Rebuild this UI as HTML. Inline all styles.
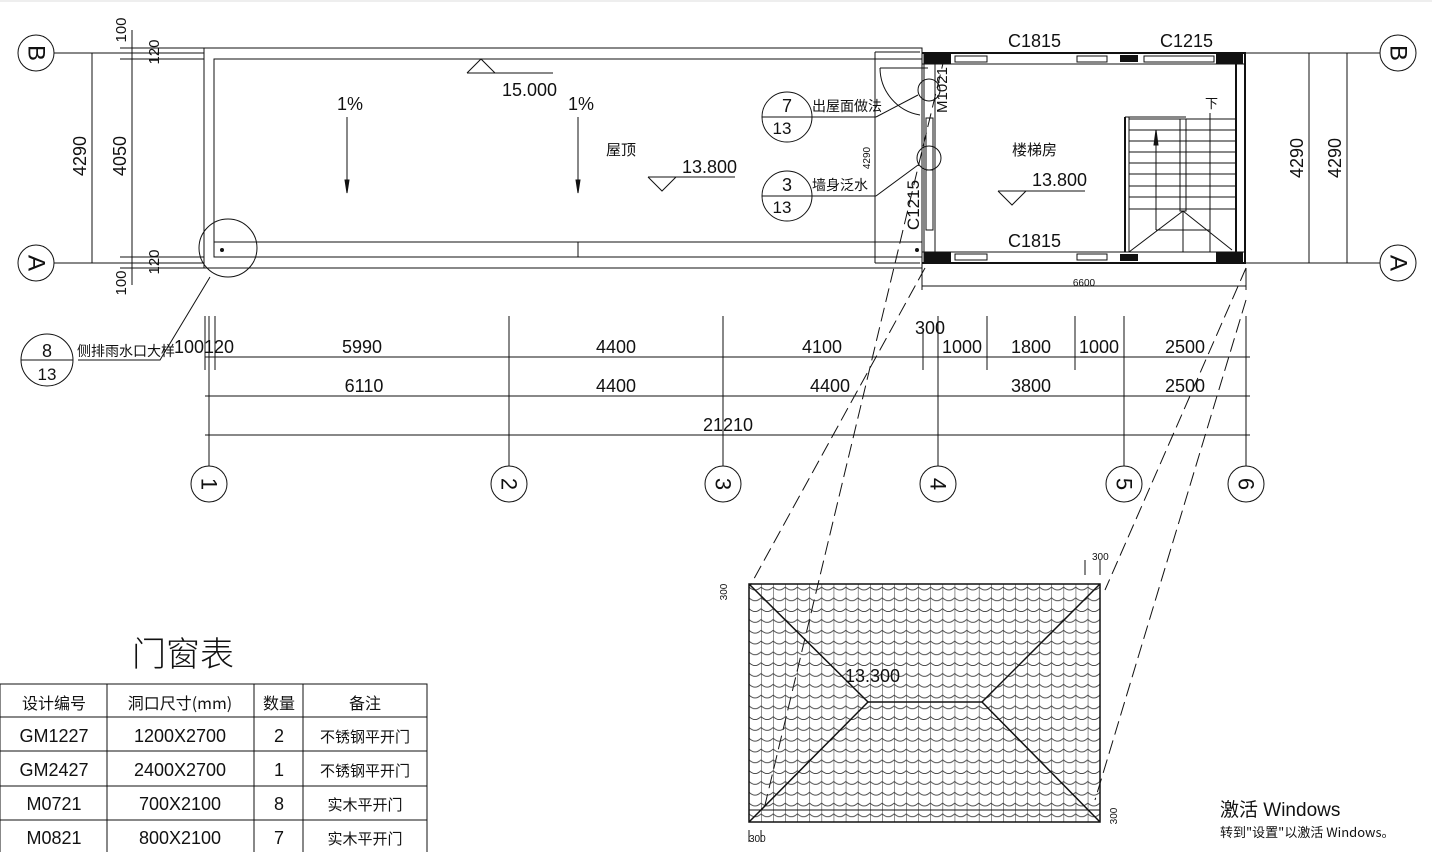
<!DOCTYPE html>
<html><head><meta charset="utf-8"><style>
html,body{margin:0;padding:0;background:#fff;}
svg{display:block;}
text{font-family:"Liberation Sans","Noto Sans CJK SC",sans-serif;fill:#111;}
.cjk{font-family:"Noto Sans CJK SC","WenQuanYi Zen Hei",sans-serif;}
</style></head><body>
<svg width="1432" height="852" viewBox="0 0 1432 852" xmlns="http://www.w3.org/2000/svg">
<defs>
<pattern id="tile" x="749" y="584" width="12.1" height="10.8" patternUnits="userSpaceOnUse">
<line x1="0" y1="0" x2="0" y2="10.8" stroke="#222" stroke-width="1"/>
<path d="M0,3 Q6,9 12.1,3" fill="none" stroke="#333" stroke-width="0.8"/>
</pattern>
</defs>
<rect x="0" y="0" width="1432" height="852" fill="#fff"/>
<line x1="0" y1="1" x2="1432" y2="1" stroke="#ddd"/>
<g stroke="#111" stroke-width="1" fill="none">
<circle cx="36" cy="53" r="18"/><circle cx="36" cy="263" r="18"/>
<line x1="54" y1="53" x2="204" y2="53"/><line x1="54" y1="263" x2="204" y2="263"/>
<line x1="120" y1="48" x2="204" y2="48"/><line x1="120" y1="59" x2="204" y2="59"/>
<line x1="120" y1="257" x2="204" y2="257"/><line x1="120" y1="268" x2="204" y2="268"/>
<line x1="92" y1="53" x2="92" y2="263"/><line x1="132" y1="30" x2="132" y2="285"/>
<circle cx="1398" cy="53" r="18"/><circle cx="1398" cy="263" r="18"/>
<line x1="1246" y1="53" x2="1380" y2="53"/><line x1="1246" y1="263" x2="1380" y2="263"/>
<line x1="1309" y1="53" x2="1309" y2="263"/><line x1="1347" y1="53" x2="1347" y2="263"/>
<rect x="204" y="48" width="718" height="220"/>
<rect x="214" y="59" width="708" height="198"/>
<line x1="214" y1="242" x2="922" y2="242"/>
<line x1="578" y1="242" x2="578" y2="257"/>
<circle cx="228" cy="248" r="29"/>
<polyline points="210,277 160,360 78,360"/>
<circle cx="47" cy="360" r="26"/><line x1="21" y1="360" x2="73" y2="360"/>
<polyline points="467,73 481,59 495,73"/><line x1="467" y1="73" x2="553" y2="73"/>
<line x1="347" y1="117" x2="347" y2="193"/><polygon points="345,180 349,180 347,193" fill="#111"/>
<line x1="578" y1="117" x2="578" y2="193"/><polygon points="576,180 580,180 578,193" fill="#111"/>
<polyline points="648,177 662,191 676,177"/><line x1="648" y1="177" x2="735" y2="177"/>
<polyline points="998,191 1012,205 1026,191"/><line x1="998" y1="191" x2="1085" y2="191"/>
<circle cx="787" cy="117" r="25"/><line x1="762" y1="117" x2="876" y2="117"/>
<line x1="876" y1="117" x2="918" y2="95"/>
<circle cx="787" cy="196" r="25"/><line x1="762" y1="196" x2="876" y2="196"/>
<line x1="876" y1="196" x2="918" y2="165"/>
<line x1="875" y1="52" x2="875" y2="263"/>
<line x1="875" y1="52" x2="920" y2="52"/><line x1="875" y1="263" x2="920" y2="263"/>
<line x1="880" y1="68" x2="928" y2="68"/>
<path d="M880,68 A48,48 0 0 0 920,115"/>
<circle cx="929" cy="90" r="11"/><circle cx="929" cy="158" r="12"/>
<line x1="922" y1="53" x2="1246" y2="53" stroke-width="2"/>
<line x1="922" y1="64" x2="1246" y2="64"/>
<line x1="922" y1="252" x2="1246" y2="252"/>
<line x1="922" y1="263" x2="1246" y2="263" stroke-width="2"/>
<line x1="924" y1="53" x2="924" y2="263"/><line x1="935" y1="53" x2="935" y2="263"/>
<line x1="1236" y1="53" x2="1236" y2="263" stroke-width="2"/><line x1="1245" y1="53" x2="1245" y2="263" stroke-width="2"/>
<rect x="955" y="56" width="32" height="6"/><rect x="1077" y="56" width="30" height="6"/>
<rect x="1144" y="56" width="70" height="6"/>
<rect x="955" y="254" width="32" height="6"/><rect x="1077" y="254" width="30" height="6"/>
<rect x="926" y="118" width="7" height="52"/><rect x="926" y="170" width="7" height="60"/>
<line x1="1125" y1="117" x2="1125" y2="252" stroke-width="2"/><line x1="1129" y1="117" x2="1129" y2="252"/>
<line x1="1125" y1="117" x2="1186" y2="117"/>
<rect x="1180" y="119" width="6" height="92"/>
<g stroke-width="0.9">
<line x1="1129" y1="119" x2="1236" y2="119"/><line x1="1129" y1="130" x2="1236" y2="130"/>
<line x1="1129" y1="141" x2="1236" y2="141"/><line x1="1129" y1="152" x2="1236" y2="152"/>
<line x1="1129" y1="163" x2="1236" y2="163"/><line x1="1129" y1="174" x2="1236" y2="174"/>
<line x1="1129" y1="186" x2="1236" y2="186"/><line x1="1129" y1="197" x2="1236" y2="197"/>
<line x1="1129" y1="209" x2="1236" y2="209"/>
</g>
<line x1="1156" y1="135" x2="1156" y2="230"/><polygon points="1154,145 1158,145 1156,130" fill="#111"/>
<line x1="1210" y1="113" x2="1210" y2="252"/>
<line x1="1156" y1="230" x2="1210" y2="230"/><line x1="1183" y1="211" x2="1183" y2="252"/>
<line x1="1183" y1="211" x2="1129" y2="252"/><line x1="1183" y1="211" x2="1232" y2="250"/>
<line x1="922" y1="268" x2="922" y2="290"/><line x1="1246" y1="268" x2="1246" y2="290"/>
<line x1="922" y1="286" x2="1246" y2="286"/>
<line x1="205" y1="357" x2="1250" y2="357"/>
<line x1="205" y1="396" x2="1250" y2="396"/>
<line x1="205" y1="435" x2="1250" y2="435"/>
<line x1="205" y1="316" x2="205" y2="370"/><line x1="215" y1="316" x2="215" y2="370"/>
<line x1="209" y1="316" x2="209" y2="466"/>
<line x1="509" y1="316" x2="509" y2="466"/><line x1="723" y1="316" x2="723" y2="466"/>
<line x1="938" y1="316" x2="938" y2="466"/><line x1="1124" y1="316" x2="1124" y2="466"/>
<line x1="1246" y1="316" x2="1246" y2="466"/>
<line x1="923" y1="330" x2="923" y2="370"/><line x1="987" y1="316" x2="987" y2="370"/>
<line x1="1075" y1="316" x2="1075" y2="370"/>
<circle cx="209" cy="484" r="18"/><circle cx="509" cy="484" r="18"/><circle cx="723" cy="484" r="18"/>
<circle cx="938" cy="484" r="18"/><circle cx="1124" cy="484" r="18"/><circle cx="1246" cy="484" r="18"/>
<g stroke-dasharray="14,6">
<line x1="925" y1="268" x2="750" y2="586"/>
<line x1="945" y1="55" x2="765" y2="805"/>
<line x1="1246" y1="268" x2="1105" y2="590"/>
<line x1="1246" y1="300" x2="1095" y2="800"/>
</g>
<rect x="749" y="584" width="351" height="238" fill="url(#tile)" stroke-width="1.5"/>
<line x1="749" y1="584" x2="868" y2="702" stroke-width="1.5"/>
<line x1="1100" y1="584" x2="982" y2="702" stroke-width="1.5"/>
<line x1="868" y1="702" x2="982" y2="702" stroke-width="1.5"/>
<line x1="868" y1="702" x2="749" y2="822" stroke-width="1.5"/>
<line x1="982" y1="702" x2="1100" y2="822" stroke-width="1.5"/>
<line x1="749" y1="810" x2="1100" y2="810"/>
<line x1="749" y1="830" x2="749" y2="842"/><line x1="761" y1="830" x2="761" y2="842"/>
<line x1="1085" y1="560" x2="1085" y2="575"/><line x1="1100" y1="560" x2="1100" y2="575"/>
<rect x="0" y="684" width="427" height="170"/>
<line x1="0" y1="717" x2="427" y2="717"/><line x1="0" y1="751" x2="427" y2="751"/>
<line x1="0" y1="786" x2="427" y2="786"/><line x1="0" y1="820" x2="427" y2="820"/>
<line x1="107" y1="684" x2="107" y2="854"/><line x1="254" y1="684" x2="254" y2="854"/>
<line x1="303" y1="684" x2="303" y2="854"/>
</g>
<g fill="#111">
<rect x="924" y="54" width="27" height="10"/><rect x="1216" y="54" width="27" height="10"/>
<rect x="1120" y="55" width="18" height="7"/>
<rect x="924" y="252" width="27" height="10"/><rect x="1216" y="252" width="27" height="10"/>
<rect x="1120" y="254" width="18" height="7"/>
<circle cx="222" cy="250" r="2"/><circle cx="917" cy="250" r="2"/>
</g>
<g font-size="18">
<text x="36" y="53" transform="rotate(90 36 53)" text-anchor="middle" dominant-baseline="central" font-size="24" font-family="Liberation Serif">B</text>
<text x="36" y="263" transform="rotate(90 36 263)" text-anchor="middle" dominant-baseline="central" font-size="24" font-family="Liberation Serif">A</text>
<text x="1398" y="53" transform="rotate(90 1398 53)" text-anchor="middle" dominant-baseline="central" font-size="24" font-family="Liberation Serif">B</text>
<text x="1398" y="263" transform="rotate(90 1398 263)" text-anchor="middle" dominant-baseline="central" font-size="24" font-family="Liberation Serif">A</text>
<text x="86" y="156" transform="rotate(-90 86 156)" text-anchor="middle">4290</text>
<text x="126" y="156" transform="rotate(-90 126 156)" text-anchor="middle">4050</text>
<text x="126" y="30" transform="rotate(-90 126 30)" text-anchor="middle" font-size="15">100</text>
<text x="159" y="52" transform="rotate(-90 159 52)" text-anchor="middle" font-size="15">120</text>
<text x="159" y="262" transform="rotate(-90 159 262)" text-anchor="middle" font-size="15">120</text>
<text x="126" y="283" transform="rotate(-90 126 283)" text-anchor="middle" font-size="15">100</text>
<text x="1303" y="158" transform="rotate(-90 1303 158)" text-anchor="middle">4290</text>
<text x="1341" y="158" transform="rotate(-90 1341 158)" text-anchor="middle">4290</text>
<text x="502" y="96">15.000</text>
<text x="337" y="110">1%</text><text x="568" y="110">1%</text>
<text x="606" y="155" class="cjk" font-size="15">屋顶</text>
<text x="682" y="173">13.800</text>
<text x="1012" y="155" class="cjk" font-size="15">楼梯房</text>
<text x="1032" y="186">13.800</text>
<text x="1008" y="47">C1815</text><text x="1160" y="47">C1215</text>
<text x="1008" y="247">C1815</text>
<text x="919" y="205" transform="rotate(-90 919 205)" text-anchor="middle" font-size="17">C1215</text>
<text x="947" y="90" transform="rotate(-90 947 90)" text-anchor="middle" font-size="15">M1021</text>
<text x="1205" y="108" class="cjk" font-size="13">下</text>
<text x="870" y="158" transform="rotate(-90 870 158)" text-anchor="middle" font-size="10">4290</text>
<text x="1084" y="286" text-anchor="middle" font-size="10">6600</text>
<text x="787" y="112" text-anchor="middle" font-family="Liberation Serif" font-size="18">7</text>
<text x="782" y="134" text-anchor="middle" font-family="Liberation Serif" font-size="17">13</text>
<text x="787" y="191" text-anchor="middle" font-family="Liberation Serif" font-size="18">3</text>
<text x="782" y="213" text-anchor="middle" font-family="Liberation Serif" font-size="17">13</text>
<text x="812" y="111" class="cjk" font-size="14">出屋面做法</text>
<text x="812" y="190" class="cjk" font-size="14">墙身泛水</text>
<text x="47" y="357" text-anchor="middle" font-family="Liberation Serif" font-size="18">8</text>
<text x="47" y="380" text-anchor="middle" font-family="Liberation Serif" font-size="17">13</text>
<text x="77" y="356" class="cjk" font-size="14">侧排雨水口大样</text>
<text x="174" y="353">100120</text>
<text x="362" y="353" text-anchor="middle">5990</text>
<text x="616" y="353" text-anchor="middle">4400</text>
<text x="822" y="353" text-anchor="middle">4100</text>
<text x="930" y="334" text-anchor="middle">300</text>
<text x="962" y="353" text-anchor="middle">1000</text>
<text x="1031" y="353" text-anchor="middle">1800</text>
<text x="1099" y="353" text-anchor="middle">1000</text>
<text x="1185" y="353" text-anchor="middle">2500</text>
<text x="364" y="392" text-anchor="middle">6110</text>
<text x="616" y="392" text-anchor="middle">4400</text>
<text x="830" y="392" text-anchor="middle">4400</text>
<text x="1031" y="392" text-anchor="middle">3800</text>
<text x="1185" y="392" text-anchor="middle">2500</text>
<text x="728" y="431" text-anchor="middle">21210</text>
<text x="209" y="484" transform="rotate(90 209 484)" text-anchor="middle" dominant-baseline="central" font-size="22">1</text>
<text x="509" y="484" transform="rotate(90 509 484)" text-anchor="middle" dominant-baseline="central" font-size="22">2</text>
<text x="723" y="484" transform="rotate(90 723 484)" text-anchor="middle" dominant-baseline="central" font-size="22">3</text>
<text x="938" y="484" transform="rotate(90 938 484)" text-anchor="middle" dominant-baseline="central" font-size="22">4</text>
<text x="1124" y="484" transform="rotate(90 1124 484)" text-anchor="middle" dominant-baseline="central" font-size="22">5</text>
<text x="1246" y="484" transform="rotate(90 1246 484)" text-anchor="middle" dominant-baseline="central" font-size="22">6</text>
<text x="845" y="682" font-size="18" fill="#555">13.300</text>
<text x="1092" y="560" font-size="10">300</text>
<text x="749" y="842" font-size="10">300</text>
<text x="727" y="592" transform="rotate(-90 727 592)" text-anchor="middle" font-size="10">300</text>
<text x="1117" y="816" transform="rotate(-90 1117 816)" text-anchor="middle" font-size="10">300</text>
<text x="183" y="666" text-anchor="middle" class="cjk" font-size="34" font-weight="300">门窗表</text>
<g font-size="18" text-anchor="middle">
<text x="54" y="709" class="cjk" font-size="16">设计编号</text>
<text x="180" y="709" class="cjk" font-size="16">洞口尺寸(mm)</text>
<text x="279" y="709" class="cjk" font-size="16">数量</text>
<text x="365" y="709" class="cjk" font-size="16">备注</text>
<text x="54" y="742">GM1227</text><text x="180" y="742">1200X2700</text><text x="279" y="742">2</text>
<text x="365" y="742" class="cjk" font-size="15">不锈钢平开门</text>
<text x="54" y="776">GM2427</text><text x="180" y="776">2400X2700</text><text x="279" y="776">1</text>
<text x="365" y="776" class="cjk" font-size="15">不锈钢平开门</text>
<text x="54" y="810">M0721</text><text x="180" y="810">700X2100</text><text x="279" y="810">8</text>
<text x="365" y="810" class="cjk" font-size="15">实木平开门</text>
<text x="54" y="844">M0821</text><text x="180" y="844">800X2100</text><text x="279" y="844">7</text>
<text x="365" y="844" class="cjk" font-size="15">实木平开门</text>
</g>
<text x="1220" y="816" font-size="19" fill="#aaa">激活 Windows</text>
<text x="1220" y="837" class="cjk" font-size="13" fill="#aaa">转到"设置"以激活 Windows。</text>
</g>
</svg>
</body></html>
